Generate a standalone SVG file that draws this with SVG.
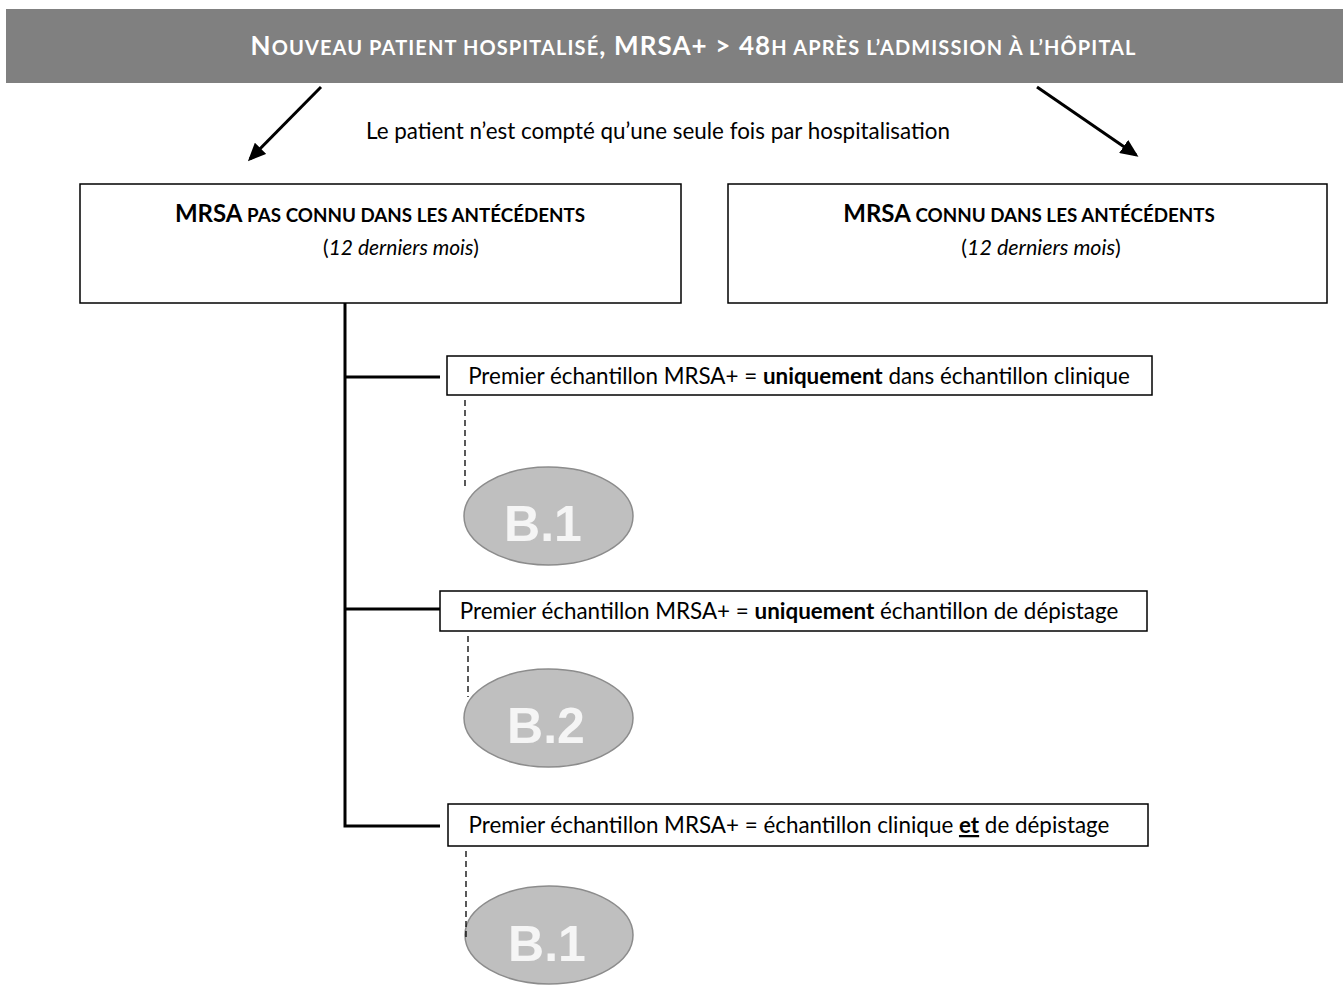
<svg xmlns="http://www.w3.org/2000/svg" width="1343" height="987" viewBox="0 0 1343 987">
<style>
text{font-family:Lato,"Open Sans","Liberation Sans",sans-serif;fill:#000}
.hd{fill:#fff;font-weight:bold}
.big{font-size:26px}
.sm{font-size:20px}
.box{fill:#fff;stroke:#000;stroke-width:1.5}
.bt{font-size:22.4px}
.ell{fill:#bfbfbf;stroke:#8c8c8c;stroke-width:1.5}
.et{font-family:"Liberation Sans",Arial,sans-serif;font-weight:bold;font-size:50px;fill:#f5f5f5}
.conn{stroke:#000;stroke-width:3;fill:none}
.dash{stroke:#000;stroke-width:1.3;stroke-dasharray:6 4;fill:none}
.arr{stroke:#000;stroke-width:3}
</style>
<defs>
<marker id="ah" markerWidth="18" markerHeight="16" refX="15" refY="8" orient="auto" markerUnits="userSpaceOnUse" viewBox="0 0 18 16">
<path d="M0,0 L18,8 L0,16 z" fill="#000"/>
</marker>
</defs>
<g id="header">
<rect x="6" y="9" width="1337" height="74" fill="#808080"/>
<text x="693" y="55" text-anchor="middle" class="hd" textLength="885" lengthAdjust="spacing"><tspan class="big">N</tspan><tspan class="sm">OUVEAU PATIENT HOSPITALISÉ</tspan><tspan class="big">, MRSA+ &gt; 48</tspan><tspan class="sm">H APRÈS L’ADMISSION À L’HÔPITAL</tspan></text>
</g>
<g id="note">
<text x="658" y="139" text-anchor="middle" class="bt">Le patient n’est compté qu’une seule fois par hospitalisation</text>
</g>
<g id="left-box">
<rect class="box" x="80" y="184" width="601" height="119"/>
<text x="380" y="222" text-anchor="middle"><tspan font-weight="bold" font-size="24px">MRSA</tspan><tspan font-weight="bold" font-size="18.8px"> PAS CONNU DANS LES ANTÉCÉDENTS</tspan></text>
<text x="401" y="255" text-anchor="middle" font-size="21px">(<tspan font-style="italic">12 derniers mois</tspan>)</text>
</g>
<g id="right-box">
<rect class="box" x="728" y="184" width="599" height="119"/>
<text x="1029" y="222" text-anchor="middle"><tspan font-weight="bold" font-size="24px">MRSA</tspan><tspan font-weight="bold" font-size="18.8px"> CONNU DANS LES ANTÉCÉDENTS</tspan></text>
<text x="1041" y="255" text-anchor="middle" font-size="21.5px">(<tspan font-style="italic">12 derniers mois</tspan>)</text>
</g>
<g id="box1">
<rect class="box" x="447" y="356" width="705" height="39"/>
<text x="799" y="384" text-anchor="middle" class="bt">Premier échantillon MRSA+ = <tspan font-weight="bold">uniquement</tspan> dans échantillon clinique</text>
</g>
<g id="box2">
<rect class="box" x="440" y="591" width="707" height="40"/>
<text x="789" y="619" text-anchor="middle" class="bt">Premier échantillon MRSA+ = <tspan font-weight="bold">uniquement</tspan> échantillon de dépistage</text>
</g>
<g id="box3">
<rect class="box" x="448" y="804" width="700" height="42"/>
<text x="789" y="833" text-anchor="middle" class="bt">Premier échantillon MRSA+ = échantillon clinique <tspan font-weight="bold" text-decoration="underline">et</tspan> de dépistage</text>
</g>
<g id="b1-top">
<ellipse class="ell" cx="548.5" cy="516" rx="84.5" ry="49"/>
<text class="et" x="543" y="541" text-anchor="middle">B.1</text>
</g>
<g id="b2">
<ellipse class="ell" cx="548.5" cy="718" rx="84.5" ry="49"/>
<text class="et" x="546" y="743" text-anchor="middle">B.2</text>
</g>
<g id="b1-bottom">
<ellipse class="ell" cx="549" cy="935" rx="84" ry="49"/>
<text class="et" x="547" y="961" text-anchor="middle">B.1</text>
</g>
<g id="connectors">
<line class="arr" x1="321" y1="87" x2="250" y2="159" marker-end="url(#ah)"/>
<line class="arr" x1="1037" y1="87" x2="1136" y2="155" marker-end="url(#ah)"/>
<polyline class="conn" points="345,303 345,826 440,826"/>
<line class="conn" x1="345" y1="377" x2="440" y2="377"/>
<line class="conn" x1="345" y1="609" x2="440" y2="609"/>
<line class="dash" x1="465" y1="400" x2="465" y2="490"/>
<line class="dash" x1="468" y1="636" x2="468" y2="697"/>
<line class="dash" x1="466" y1="851" x2="466" y2="940"/>
</g>
</svg>
